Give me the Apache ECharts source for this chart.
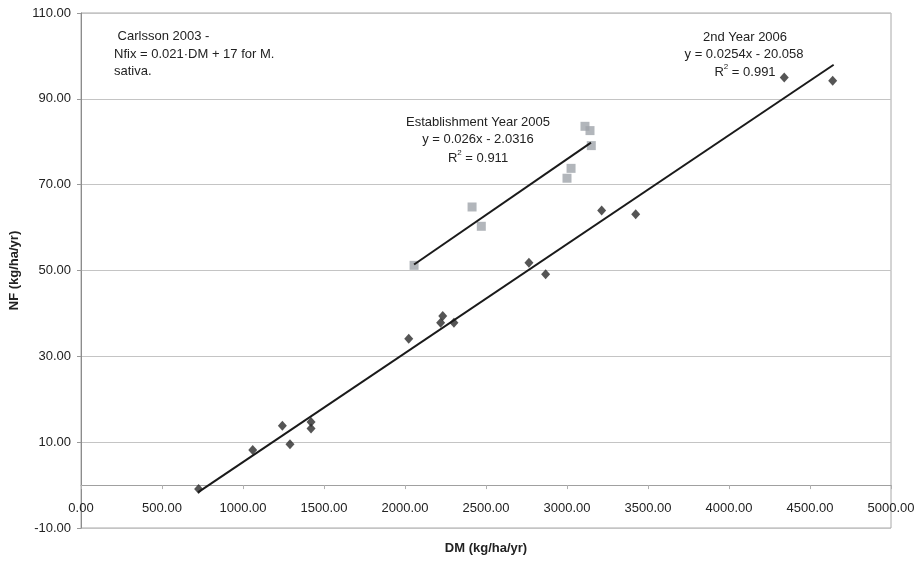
<!DOCTYPE html>
<html>
<head>
<meta charset="utf-8">
<script src="https://cdn.jsdelivr.net/npm/echarts@6/dist/echarts.min.js"></script>
<style>
  html, body { margin: 0; padding: 0; background: #fff; }
  #chart { width: 916px; height: 561px; }
</style>
</head>
<body>
<div id="chart"></div>
<script>
// 2nd year 2006 (diamonds)
const dm2006 = [726, 1060, 1243, 1290, 1420, 1420, 2023, 2220, 2233, 2302, 2765, 2868, 3214, 3424, 4341, 4640]
const nf2006 = [-0.9, 8.2, 13.8, 9.5, 14.7, 13.2, 34.1, 37.8, 39.4, 37.8, 51.8, 49.1, 64.0, 63.1, 95.0, 94.2]

// establishment year 2005 (squares)
const dm2005 = [2056, 2414, 2471, 3000, 3025, 3111, 3142, 3150]
const nf2005 = [51.2, 64.8, 60.3, 71.5, 73.8, 83.6, 82.6, 79.1]

// trend line end points
const fit2006 = [[722, -1.7], [4646, 97.95]]
const fit2005 = [[2056, 51.4], [3148, 79.8]]

const FONT = 'Liberation Sans, Arial, sans-serif'
const TXT = '#222'

const zip = (xs, ys) => xs.map((x, i) => [x, ys[i]])

const chart = echarts.init(document.getElementById('chart'), null, { renderer: 'canvas' })

function textLine(x, y, text, align) {
  return {
    type: 'text',
    x: x,
    y: y,
    style: {
      text: text,
      fill: TXT,
      font: '13px ' + FONT,
      align: align || 'center',
      verticalAlign: 'middle',
    },
  }
}

function r2Line(x, y, val) {
  return {
    type: 'text',
    x: x,
    y: y,
    style: {
      text: '{a|R}{s|2}{a| = ' + val + '}',
      align: 'center',
      verticalAlign: 'middle',
      rich: {
        a: { fontSize: 13, fontFamily: FONT, fill: TXT, lineHeight: 16, verticalAlign: 'bottom' },
        s: { fontSize: 8, fontFamily: FONT, fill: TXT, lineHeight: 16, verticalAlign: 'top' },
      },
    },
  }
}

const option = {
  backgroundColor: '#fff',
  animation: false,
  textStyle: { fontFamily: FONT },
  grid: {
    left: 81,
    right: 25,
    top: 13,
    bottom: 33,
    outerBoundsMode: 'none',
    show: true,
    borderColor: '#a8a8a8',
    borderWidth: 1,
  },
  xAxis: {
    type: 'value',
    min: 0,
    max: 5000,
    interval: 500,
    name: 'DM (kg/ha/yr)',
    nameLocation: 'middle',
    nameGap: 14,
    nameTextStyle: { fontWeight: 'bold', fontSize: 13, color: TXT, fontFamily: FONT },
    axisLine: { onZero: true, lineStyle: { color: '#a0a0a0', width: 1 } },
    axisTick: { show: true, length: 4, lineStyle: { color: '#b0b0b0' } },
    axisLabel: {
      margin: -26,
      fontSize: 13,
      color: TXT,
      fontFamily: FONT,
      formatter: v => v.toFixed(2),
    },
    splitLine: { show: false },
  },
  yAxis: {
    type: 'value',
    min: -10,
    max: 110,
    interval: 20,
    name: 'NF (kg/ha/yr)',
    nameLocation: 'middle',
    nameGap: 59,
    nameTextStyle: { fontWeight: 'bold', fontSize: 13, color: TXT, fontFamily: FONT },
    axisLine: { show: true, lineStyle: { color: '#8c8c8c', width: 1 } },
    axisTick: { show: true, length: 4, lineStyle: { color: '#999' } },
    axisLabel: {
      margin: 10,
      fontSize: 13,
      color: TXT,
      fontFamily: FONT,
      formatter: v => v.toFixed(2),
    },
    splitLine: { show: true, lineStyle: { color: '#c4c4c4', width: 1 } },
  },
  series: [
    {
      name: 'Establishment Year 2005',
      type: 'scatter',
      symbol: 'rect',
      symbolSize: 9,
      itemStyle: { color: '#9fa4aa' },
      data: zip(dm2005, nf2005),
      z: 2,
    },
    {
      name: '2nd Year 2006',
      type: 'scatter',
      symbol: 'diamond',
      symbolSize: [9, 10],
      itemStyle: { color: '#2a2a2a' },
      data: zip(dm2006, nf2006),
      z: 2,
    },
    {
      type: 'line',
      data: fit2005,
      showSymbol: false,
      lineStyle: { color: '#1a1a1a', width: 2 },
      z: 3,
    },
    {
      type: 'line',
      data: fit2006,
      showSymbol: false,
      lineStyle: { color: '#1a1a1a', width: 2 },
      z: 3,
    },
  ],
  graphic: [
    textLine(114, 36, ' Carlsson 2003 -', 'left'),
    textLine(114, 54, 'Nfix = 0.021\u00b7DM + 17 for M.', 'left'),
    textLine(114, 71, 'sativa.', 'left'),

    textLine(745, 37, '2nd Year 2006'),
    textLine(744, 54, 'y = 0.0254x - 20.058'),
    r2Line(745, 71, '0.991'),

    textLine(478, 122, 'Establishment Year 2005'),
    textLine(478, 139, 'y = 0.026x - 2.0316'),
    r2Line(478, 157, '0.911'),
  ],
}

chart.setOption(option)
</script>
</body>
</html>
